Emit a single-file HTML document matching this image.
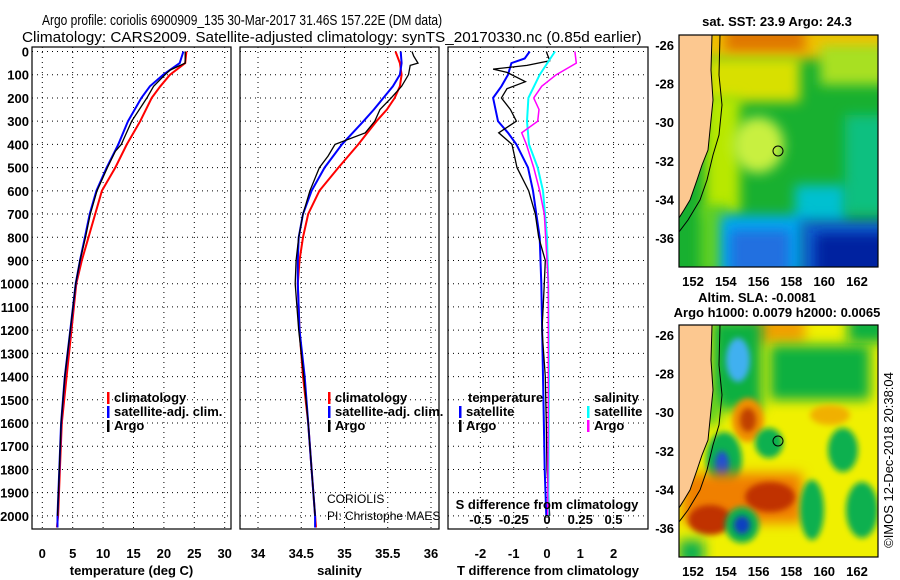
<!DOCTYPE html>
<html><head><meta charset="utf-8"><style>
body{margin:0;background:#fff;}
svg{display:block;font-family:"Liberation Sans",sans-serif;}
.tk{font-size:13px;font-weight:bold;fill:#000;}
.lb{font-size:13px;font-weight:bold;fill:#000;}
</style></head><body>
<svg id="fig" width="900" height="580" viewBox="0 0 900 580">
<defs>
<filter id="bl" x="-50%" y="-50%" width="200%" height="200%"><feGaussianBlur stdDeviation="6"/></filter>
<filter id="bl2" x="-50%" y="-50%" width="200%" height="200%"><feGaussianBlur stdDeviation="3"/></filter>
<clipPath id="c1"><rect x="679" y="35" width="199" height="232"/></clipPath>
<clipPath id="c2"><rect x="679" y="325" width="199" height="232"/></clipPath>
</defs>
<text transform="translate(42,25) scale(0.80,1)" font-size="15">Argo profile: coriolis 6900909_135 30-Mar-2017 31.46S 157.22E (DM data)</text>
<text transform="translate(22,42) scale(1.02,1)" font-size="15">Climatology: CARS2009. Satellite-adjusted climatology: synTS_20170330.nc (0.85d earlier)</text>
<g id="panels"></g>
<g id="maps"></g>
<text transform="translate(893,460) rotate(-90)" text-anchor="middle" font-size="13">©IMOS 12-Dec-2018 20:38:04</text>
</svg>
<script>
// ---- data ----
const tDepth = [0,50,100,150,200,300,400,500,600,700,800,900,1000,1200,1400,1600,1800,2000,2050];
const tClim  = [23.7,23.5,21.0,19.4,18.0,16.1,13.9,12.0,9.8,8.7,7.6,6.5,5.6,4.8,4.0,3.2,2.9,2.6,2.4];
const tSat   = [23.2,22.6,19.9,17.7,16.3,14.1,12.5,10.6,8.9,7.8,7.0,6.2,5.5,4.6,3.7,3.1,2.8,2.5,2.5];
const aDepth = [0,50,80,100,150,200,300,400,430,500,600,700,800,900,1000,1200,1400,1600,1800,2000];
const tArgo  = [23.5,23.5,21.0,20.2,18.3,17.2,14.7,13.0,12.0,10.7,9.0,7.9,7.1,6.2,5.5,4.6,3.7,3.1,2.8,2.5];
const sDepth = [0,50,100,150,200,250,300,400,500,600,700,800,900,1000,1200,1400,1600,1800,2000,2050];
const sClim  = [35.59,35.64,35.66,35.64,35.58,35.49,35.37,35.16,34.93,34.71,34.58,34.52,34.48,34.46,34.48,34.52,34.58,34.62,34.66,34.67];
const sSat   = [35.65,35.66,35.64,35.56,35.45,35.34,35.22,34.97,34.77,34.62,34.52,34.47,34.46,34.46,34.48,34.54,34.58,34.62,34.66,34.66];
const saDepth= [0,20,50,60,100,150,200,250,300,350,400,450,500,600,700,800,900,1000,1200,1400,1600,1800,2000];
const sArgo  = [35.78,35.8,35.85,35.76,35.74,35.66,35.54,35.41,35.35,35.24,34.89,34.81,34.71,34.6,34.52,34.47,34.44,34.43,34.47,34.53,34.58,34.62,34.66];
const dtDepth= [0,30,50,100,150,200,300,350,400,500,600,700,800,1000,1400,1800,2000];
const dtSat  = [-0.52,-0.67,-1.07,-1.17,-1.37,-1.62,-1.47,-1.17,-0.92,-0.57,-0.42,-0.32,-0.22,-0.17,-0.12,-0.07,-0.02];
const daDepth= [0,40,60,76,90,130,160,200,250,300,350,400,500,600,700,800,900,1000,1200,1400,1600,1800,2000];
const dtArgo = [-0.02,0.08,-0.6,-1.62,-1.2,-0.65,-1.2,-1.37,-1.1,-0.92,-1.45,-1.05,-0.9,-0.55,-0.35,-0.25,-0.05,-0.08,-0.15,-0.05,-0.02,0.0,0.08];
const dsDepth= [0,100,200,300,400,500,600,800,1000,1400,2000];
const dsSat  = [0.06,-0.055,-0.14,-0.15,-0.135,-0.07,-0.03,0.0,0.01,0.015,0.01];
const dsaDepth=[0,50,100,150,200,250,300,350,400,500,600,700,900,1000,1500,2000];
const dsArgo = [0.21,0.22,0.07,-0.04,-0.1,-0.06,-0.07,-0.19,-0.155,-0.1,-0.055,-0.02,0,0.01,0.01,0.005];
const depthTicks = [0,100,200,300,400,500,600,700,800,900,1000,1100,1200,1300,1400,1500,1600,1700,1800,1900,2000];
const tTicks = [0,5,10,15,20,25,30];
const sTicks = [34,34.5,35,35.5,36];
const sTickLabels = ["34","34.5","35","35.5","36"];
const dtTicks = [-2,-1,0,1,2];
const dsTicks = [-0.5,-0.25,0,0.25,0.5];
const dsTickLabels = ["-0.5","-0.25","0","0.25","0.5"];
const lonTicks = [152,154,156,158,160,162];
const latTicks = [-26,-28,-30,-32,-34,-36];

const NS="http://www.w3.org/2000/svg";
function mk(tag,attrs,parent){const e=document.createElementNS(NS,tag);for(const k in attrs)e.setAttribute(k,attrs[k]);parent.appendChild(e);return e;}
const Y0=51.5, YS=0.2322;
function yD(d){return Y0+d*YS;}
const panels=document.getElementById('panels');

function panel(name,x0,x1,xf,xticks,xlabels,title){
  const g=mk('g',{},panels);
  
  
  const top=47,bot=529;
  depthTicks.forEach(d=>{mk('line',{x1:x0,x2:x1,y1:yD(d),y2:yD(d),stroke:'#000','stroke-width':1,'stroke-dasharray':'1,4'},g);});
  xticks.forEach((v,i)=>{const x=xf(v);
    mk('line',{x1:x,x2:x,y1:top,y2:bot,stroke:'#000','stroke-width':1,'stroke-dasharray':'1,4'},g);
    const t=mk('text',{x:x,y:558,'text-anchor':'middle',class:'tk'},g);t.textContent=xlabels[i];
    
    
  });
  mk('rect',{x:x0,y:top,width:x1-x0,height:bot-top,fill:'none',stroke:'#000','stroke-width':1.2},g);
  const tt=mk('text',{x:(x0+x1)/2,y:575,'text-anchor':'middle',class:'lb'},g);tt.textContent=title;
  
  
  return g;
}
function line(g,name,depths,vals,xf,color,w){
  const p=depths.map((d,i)=>xf(vals[i]).toFixed(1)+','+yD(d).toFixed(1)).join(' ');
  const l=mk('polyline',{points:p,fill:'none',stroke:color,'stroke-width':w||2},g);
  
  
}
function legend(g,x,y,items){
  items.forEach((it,i)=>{
    mk('rect',{x:x,y:y+i*14-10,width:2.5,height:12,fill:it[1]},g);
    const t=mk('text',{x:x+7,y:y+i*14,class:'tk','font-size':'12'},g);t.textContent=it[0];
    
    
  });
}
const xT=v=>42.3+v*6.08;
const g1=panel('temperature-panel',32,231,xT,tTicks,tTicks.map(String),'temperature (deg C)');
depthTicks.forEach(d=>{const t=mk('text',{x:29,y:yD(d)+5,'text-anchor':'end',class:'tk'},g1);t.textContent=d;
  
  });
line(g1,'temp-climatology-line',tDepth,tClim,xT,'#ff0000');
line(g1,'temp-satellite-line',tDepth,tSat,xT,'#0000ff');
line(g1,'temp-argo-line',aDepth,tArgo,xT,'#000000',1.3);
legend(g1,107,402,[['climatology','#ff0000'],['satellite-adj. clim.','#0000ff'],['Argo','#000']]);
const xS=v=>258+(v-34)*86.5;
const g2=panel('salinity-panel',240,439,xS,sTicks,sTickLabels,'salinity');
line(g2,'sal-climatology-line',sDepth,sClim,xS,'#ff0000');
line(g2,'sal-satellite-line',sDepth,sSat,xS,'#0000ff');
line(g2,'sal-argo-line',saDepth,sArgo,xS,'#000000',1.3);
legend(g2,328,402,[['climatology','#ff0000'],['satellite-adj. clim.','#0000ff'],['Argo','#000']]);
let c=mk('text',{x:327,y:503,'font-size':'12'},g2);c.textContent='CORIOLIS';


c=mk('text',{x:327,y:520,'font-size':'12'},g2);c.textContent='PI: Christophe MAES';


const xDT=v=>547+v*33.3;
const xDS=v=>547+v*133;
const g3=panel('difference-panel',448,648,xDT,dtTicks,dtTicks.map(String),'T difference from climatology');
line(g3,'dt-satellite-line',dtDepth,dtSat,xDT,'#0000ff');
line(g3,'dt-argo-line',daDepth,dtArgo,xDT,'#000000',1.3);
line(g3,'ds-satellite-line',dsDepth,dsSat,xDS,'#00ffff');
line(g3,'ds-argo-line',dsaDepth,dsArgo,xDS,'#ff00ff',1.5);
let t3=mk('text',{x:468,y:402,class:'tk','font-size':'12'},g3);t3.textContent='temperature';


t3=mk('text',{x:594,y:402,class:'tk','font-size':'12'},g3);t3.textContent='salinity';


legend(g3,459,416,[['satellite','#0000ff'],['Argo','#000']]);
legend(g3,587,416,[['satellite','#00ffff'],['Argo','#ff00ff']]);
t3=mk('text',{x:547,y:509,'text-anchor':'middle',class:'tk','font-size':'12'},g3);t3.textContent='S difference from climatology';


dsTicks.forEach((v,i)=>{const t=mk('text',{x:xDS(v),y:524,'text-anchor':'middle',class:'tk','font-size':'12'},g3);t.textContent=dsTickLabels[i];
  
  });

// ---- maps ----
const maps=document.getElementById('maps');
const lonX=v=>693+(v-152)*16.4;
const coast=[[712,0],[711,35],[713,65],[710,95],[708,115],[702,130],[697,145],[690,165],[684,175],[679,183]];
const contour=[[720,0],[719,40],[722,70],[719,100],[713,120],[707,145],[700,165],[688,185],[679,197]];
function map(name,y0,clip,shapes){
  const g=mk('g',{},maps);
  
  
  const inner=mk('g',{'clip-path':'url(#'+clip+')'},g);
  shapes(inner,y0);
  const land='679,'+y0+' '+coast.map(p=>p[0]+','+(p[1]+y0)).join(' ')+' 679,'+(y0+232);
  mk('polygon',{points:land,fill:'#fcc890'},inner);
  mk('polyline',{points:coast.map(p=>p[0]+','+(p[1]+y0)).join(' '),fill:'none',stroke:'#000','stroke-width':1},inner);
  mk('polyline',{points:contour.map(p=>p[0]+','+(p[1]+y0)).join(' '),fill:'none',stroke:'#000','stroke-width':1},inner);
  mk('circle',{cx:778,cy:y0+116,r:5,fill:'none',stroke:'#000','stroke-width':1},inner);
  mk('rect',{x:679,y:y0,width:199,height:232,fill:'none',stroke:'#000','stroke-width':1.2},g);
  lonTicks.forEach(v=>{const t=mk('text',{x:lonX(v),y:y0+251,'text-anchor':'middle',class:'tk'},g);t.textContent=v;
    
    });
  latTicks.forEach(v=>{const y=y0+10+(-26-v)*19.3;const t=mk('text',{x:674,y:y+5,'text-anchor':'end',class:'tk'},g);t.textContent=v;
    
    });
  return g;
}
function blob(g,cx,cy,rx,ry,col,f){mk('ellipse',{cx:cx,cy:cy,rx:rx,ry:ry,fill:col,filter:'url(#'+(f||'bl')+')'},g);}
function box(g,x,y,w,h,col,f){mk('rect',{x:x,y:y,width:w,height:h,fill:col,filter:'url(#'+(f||'bl')+')'},g);}
map('sst-map',35,'c1',(g,y)=>{
  mk('rect',{x:669,y:y-10,width:220,height:250,fill:'#18b030'},g);
  box(g,700,y-10,190,34,'#f0c000');
  box(g,725,y-10,80,28,'#e07800');
  box(g,820,y+10,70,40,'#a8e020');
  box(g,705,y+22,95,45,'#d8e000');
  box(g,705,y+60,35,120,'#b8e800');
  blob(g,758,y+110,26,28,'#c8f040');
  box(g,700,y+170,30,70,'#60d020');
  box(g,845,y+80,45,100,'#10c080');
  box(g,795,y+150,50,40,'#00c0d0');
  box(g,720,y+180,85,60,'#00a8f0');
  box(g,730,y+195,60,45,'#2070e0');
  box(g,800,y+185,90,60,'#1060d0');
  box(g,815,y+198,75,45,'#0020a0');
});
map('sla-map',325,'c2',(g,y)=>{
  mk('rect',{x:669,y:y-10,width:220,height:250,fill:'#f0f000'},g);
  box(g,745,y-10,60,28,'#f0a000');
  box(g,712,y-5,50,90,'#10b040');
  blob(g,738,y+35,12,22,'#40b0f0','bl2');
  box(g,770,y+20,100,55,'#10b040');
  box(g,848,y-10,40,28,'#10b040');
  box(g,700,y+70,20,30,'#60d020');
  blob(g,748,y+95,16,22,'#f09000','bl2');
  blob(g,748,y+95,8,12,'#c04000','bl2');
  blob(g,769,y+118,14,15,'#10b050','bl2');
  blob(g,724,y+135,18,28,'#10b050','bl2');
  blob(g,722,y+140,7,14,'#2050d0','bl2');
  blob(g,830,y+90,20,10,'#f0b000','bl2');
  blob(g,843,y+125,15,22,'#10b050','bl2');
  box(g,682,y+148,120,50,'#f08000');
  blob(g,770,y+172,25,15,'#c03000','bl2');
  blob(g,710,y+195,22,15,'#c03000','bl2');
  blob(g,742,y+200,17,18,'#10b050','bl2');
  blob(g,742,y+200,8,9,'#1040c0','bl2');
  blob(g,812,y+185,12,30,'#10b050','bl2');
  blob(g,862,y+185,16,28,'#10b050','bl2');
  box(g,679,y+215,25,25,'#10b050');
});
function ttl(x,y,s,n){const t=mk('text',{x:x,y:y,'text-anchor':'middle',class:'tk'},maps);t.textContent=s;
  
  }
ttl(777,26,'sat. SST: 23.9 Argo: 24.3','sst-map-title');
ttl(757,302,'Altim. SLA: -0.0081','sla-map-title');
ttl(777,317,'Argo h1000: 0.0079 h2000: 0.0065','sla-map-subtitle');
</script>
</body></html>
